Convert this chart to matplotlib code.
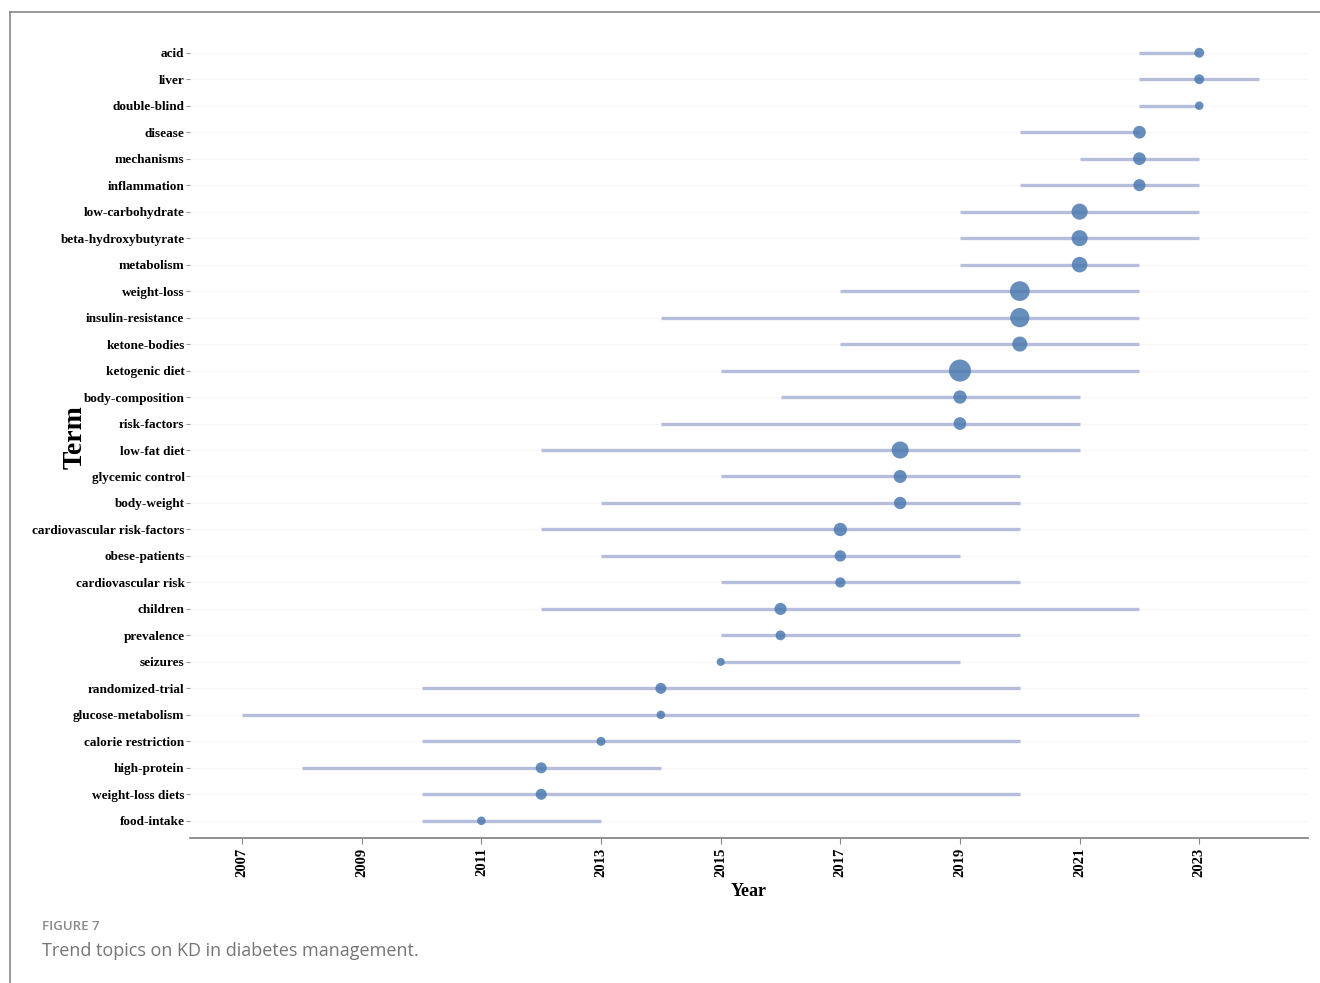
"""Trend topics on KD in diabetes management: span of years per term with median-year dot."""
import matplotlib
matplotlib.use("Agg")
import matplotlib.pyplot as plt
from matplotlib.lines import Line2D

# top to bottom as in the figure
terms = [
    "acid", "liver", "double-blind", "disease", "mechanisms", "inflammation",
    "low-carbohydrate", "beta-hydroxybutyrate", "metabolism", "weight-loss",
    "insulin-resistance", "ketone-bodies", "ketogenic diet", "body-composition",
    "risk-factors", "low-fat diet", "glycemic control", "body-weight",
    "cardiovascular risk-factors", "obese-patients", "cardiovascular risk",
    "children", "prevalence", "seizures", "randomized-trial",
    "glucose-metabolism", "calorie restriction", "high-protein",
    "weight-loss diets", "food-intake",
]
year_q1 = [2022, 2022, 2022, 2020, 2021, 2020, 2019, 2019, 2019, 2017,
           2014, 2017, 2015, 2016, 2014, 2012, 2015, 2013, 2012, 2013,
           2015, 2012, 2015, 2015, 2010, 2007, 2010, 2008, 2010, 2010]
year_med = [2023, 2023, 2023, 2022, 2022, 2022, 2021, 2021, 2021, 2020,
            2020, 2020, 2019, 2019, 2019, 2018, 2018, 2018, 2017, 2017,
            2017, 2016, 2016, 2015, 2014, 2014, 2013, 2012, 2012, 2011]
year_q3 = [2023, 2024, 2023, 2022, 2023, 2023, 2023, 2023, 2022, 2022,
           2022, 2022, 2022, 2021, 2021, 2021, 2020, 2020, 2020, 2019,
           2020, 2022, 2020, 2019, 2020, 2022, 2020, 2014, 2020, 2013]
freq = [12, 12, 9, 20, 20, 18, 32, 32, 30, 48,
        46, 28, 60, 22, 20, 36, 21, 19, 22, 16,
        13, 18, 12, 8, 15, 9, 10, 15, 15, 9]
year_ticks = [2007, 2009, 2011, 2013, 2015, 2017, 2019, 2021, 2023]

SERIF = "Liberation Serif"
LINE_COLOUR = "#aeb7d8"
DOT_COLOUR = "#4d7ab0"

fig = plt.figure(figsize=(13.2, 9.83), dpi=100)
ax = fig.add_axes([0.144, 0.1475, 0.847, 0.815])

n = len(terms)
ys = list(range(n - 1, -1, -1))

for y in ys:
    ax.axhline(y, color="#f7f7f7", lw=0.8, zorder=0)

ax.hlines(ys, year_q1, year_q3, color=LINE_COLOUR, lw=2.4, alpha=0.9, zorder=2)
ax.scatter(year_med, ys, s=[f * 4.2 for f in freq], color=DOT_COLOUR,
           alpha=0.85, edgecolor="none", zorder=3)

ax.set_ylim(-0.65, n - 1 + 0.6)
ax.set_xlim(2006.13, 2024.82)
ax.set_yticks(ys)
ax.set_yticklabels(terms, fontfamily=SERIF, fontweight="bold", fontsize=9.5)
ax.set_xticks(year_ticks)
ax.set_xticklabels([str(t) for t in year_ticks], rotation=90,
                   fontfamily=SERIF, fontweight="bold", fontsize=10.5)
ax.tick_params(axis="y", length=3, width=0.8, color="#999999", pad=1)
ax.tick_params(axis="x", length=4, width=0.8, color="#888888", pad=3)

for side in ("left", "right", "top"):
    ax.spines[side].set_visible(False)
ax.spines["bottom"].set_color("#888888")
ax.spines["bottom"].set_linewidth(1.3)

ax.set_xlabel("Year", fontfamily=SERIF, fontweight="bold", fontsize=13, labelpad=4)
fig.text(0.057, 0.555, "Term", rotation=90, ha="center", va="center",
         fontfamily=SERIF, fontweight="bold", fontsize=20)

# page frame
fig.add_artist(Line2D([0.0076, 0.0076], [0.0, 0.988], color="#888888", lw=1.2))
fig.add_artist(Line2D([0.0076, 1.0], [0.988, 0.988], color="#888888", lw=1.2))

fig.text(0.032, 0.057, "FIGURE 7", fontfamily="Open Sans", fontweight="semibold",
         fontsize=9.5, color="#8a8a8a", va="center")
fig.text(0.032, 0.033, "Trend topics on KD in diabetes management.",
         fontfamily="Open Sans", fontsize=13, color="#757575", va="center")

fig.savefig("out.png", dpi=100)
plt.close(fig)
